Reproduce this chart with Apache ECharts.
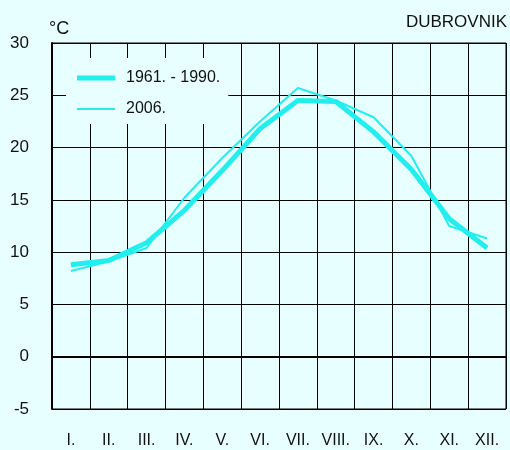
<!DOCTYPE html>
<html>
<head>
<meta charset="utf-8">
<script src="https://cdn.jsdelivr.net/npm/echarts@6/dist/echarts.min.js"></script>
<style>
html,body{margin:0;padding:0;background:#E8FFFF;}
#c{width:510px;height:450px;}
</style>
</head>
<body>
<div id="c"></div>
<script>
var months = ['I.', 'II.', 'III.', 'IV.', 'V.', 'VI.', 'VII.', 'VIII.', 'IX.', 'X.', 'XI.', 'XII.'];
var normal6190 = [8.8, 9.2, 10.9, 14.0, 17.8, 21.8, 24.5, 24.4, 21.5, 17.9, 13.2, 10.4];
var year2006 = [8.2, 9.1, 10.4, 15.2, 19.0, 22.5, 25.7, 24.5, 22.9, 19.2, 12.5, 11.3];
var seriesNames = ['1961. - 1990.', '2006.'];
var yTicks = [-5, 0, 5, 10, 15, 20, 25, 30];

var FONT = '"Liberation Sans", Arial, sans-serif';
var LINE = '#22EEEE';

var chart = echarts.init(document.getElementById('c'), null, {renderer: 'canvas'});
chart.setOption({
  backgroundColor: '#E8FFFF',
  animation: false,
  textStyle: {fontFamily: FONT, color: '#111'},
  grid: {left: 52, right: 4, top: 43, bottom: 41, show: true, borderColor: '#000', borderWidth: 1, backgroundColor: 'transparent'},
  graphic: [
    {type: 'text', right: 3, top: 14, style: {text: 'DUBROVNIK', fontFamily: FONT, fontSize: 17, fill: '#111'}},
    {type: 'text', left: 49, top: 20, style: {text: '°C', fontFamily: FONT, fontSize: 18, fill: '#111'}}
  ],
  legend: {
    orient: 'vertical',
    left: 66, top: 58,
    padding: [12, 8, 7, 11],
    itemWidth: 38, itemHeight: 14, itemGap: 15,
    backgroundColor: '#E8FFFF',
    data: [
      {name: seriesNames[0], icon: 'path://M0,0H38V5H0Z'},
      {name: seriesNames[1], icon: 'path://M0,0H38V2H0Z'}
    ],
    textStyle: {fontFamily: FONT, fontSize: 16, color: '#111', padding: [0, 0, 0, 6]},
    z: 10
  },
  xAxis: {
    type: 'category',
    data: months,
    boundaryGap: true,
    axisLine: {show: true, lineStyle: {color: '#000', width: 2}},
    axisTick: {show: false, interval: 0},
    axisLabel: {fontFamily: FONT, fontSize: 16, color: '#111', margin: 24, interval: 0},
    splitLine: {show: true, interval: 0, lineStyle: {color: '#000', width: 1}}
  },
  yAxis: {
    type: 'value',
    min: -5, max: 30, interval: 5,
    axisLine: {show: true, lineStyle: {color: '#000', width: 2}},
    axisTick: {show: false},
    axisLabel: {fontFamily: FONT, fontSize: 17, color: '#111', margin: 23,
      formatter: function (v) { return yTicks.indexOf(v) >= 0 ? String(v) : ''; }},
    splitLine: {show: true, lineStyle: {color: '#000', width: 1}}
  },
  series: [
    {
      name: seriesNames[0], type: 'line', data: normal6190,
      symbol: 'none', showSymbol: false,
      lineStyle: {color: LINE, width: 5}, itemStyle: {color: LINE},
      z: 3,
      markLine: {
        silent: true, symbol: 'none', label: {show: false},
        lineStyle: {color: '#000', width: 2, type: 'solid'},
        data: [{yAxis: 0}]
      }
    },
    {
      name: seriesNames[1], type: 'line', data: year2006,
      symbol: 'none', showSymbol: false,
      lineStyle: {color: LINE, width: 2}, itemStyle: {color: LINE},
      z: 4
    }
  ]
});
</script>
</body>
</html>
